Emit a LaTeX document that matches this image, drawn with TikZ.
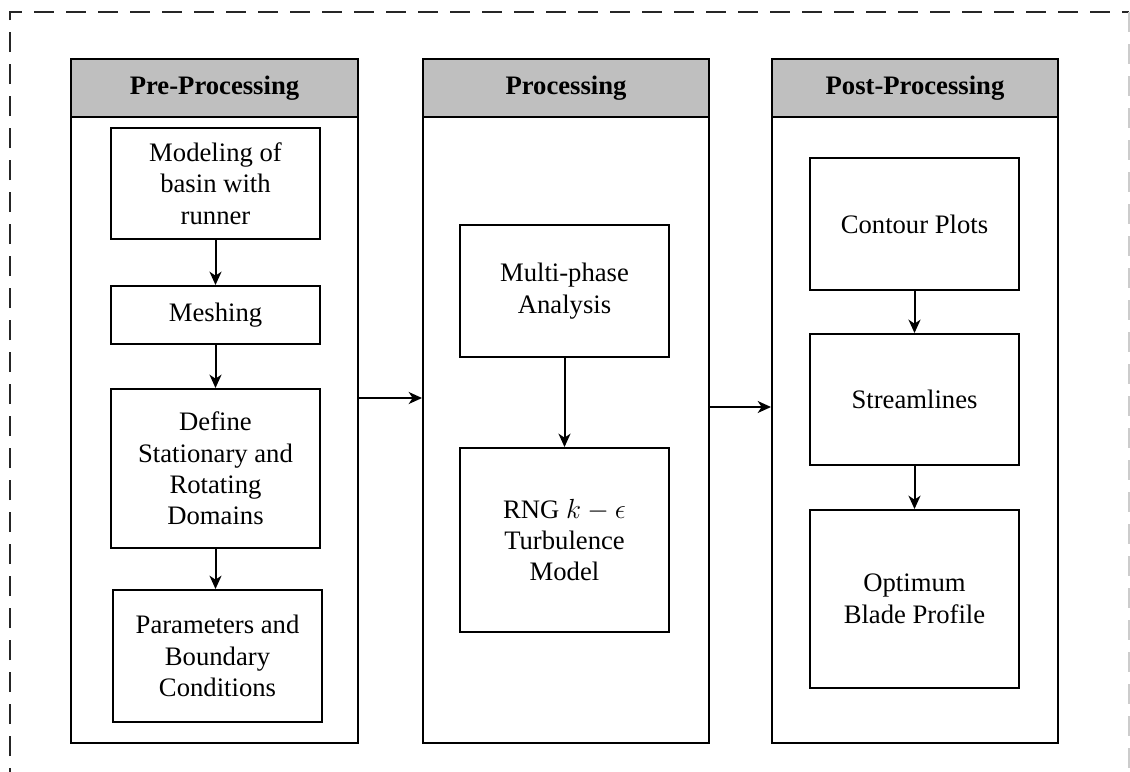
\documentclass[tikz,border=0pt]{standalone}
\usepackage{fontspec}
\setmainfont{Liberation Serif}
\usetikzlibrary{arrows.meta,fit}
\tikzset{
  panelhead/.style={draw=black, line width=1.5pt, fill=headgray, inner sep=0pt, font=\fontsize{20}{23.6}\selectfont\bfseries},
  panelbody/.style={draw=black, line width=1.5pt, fill=white, inner sep=0pt},
  ibox/.style={draw=black, line width=1.5pt, fill=white, inner sep=0pt, align=center, font=\fontsize{20}{23.6}\selectfont},
  flow/.style={line width=1.5pt, -{Stealth[length=10pt,width=9pt,inset=3pt]}},
  frame/.style={draw=black!85, line width=1.5pt, dash pattern=on 15pt off 9pt},
  frameedge/.style={draw=black!20, line width=1pt, dash pattern=on 15pt off 9pt}
}
\definecolor{headgray}{HTML}{BFBFBF}
\begin{document}
\begin{tikzpicture}[x=0.75pt,y=-0.75pt]
\useasboundingbox (0,0) rectangle (1130,771);
\clip (0,0) rectangle (1130,771);
\fill[white] (0,0) rectangle (1130,771);
% outer dashed frame
\coordinate (fbl) at (10,820);
\coordinate (ftl) at (10,12);
\coordinate (ftr) at (1129,12);
\coordinate (fbr) at (1129,820);
\draw[frame] (fbl) -- (ftl) -- (ftr);
\draw[frameedge] (ftr) -- (fbr);

% panels
\node[panelbody, fit={(71,117) (358,743)}] (lbody) {};
\node[panelhead, fit={(71,59) (358,117)}] (lhead) {};
\node[font=\fontsize{20}{23.6}\selectfont\bfseries] (ltitle) at (lhead.center) {Pre-Processing};

\node[panelbody, fit={(423,117) (709,743)}] (mbody) {};
\node[panelhead, fit={(423,59) (709,117)}] (mhead) {};
\node[font=\fontsize{20}{23.6}\selectfont\bfseries] (mtitle) at (mhead.center) {Processing};

\node[panelbody, fit={(772,117) (1058,743)}] (rbody) {};
\node[panelhead, fit={(772,59) (1058,117)}] (rhead) {};
\node[font=\fontsize{20}{23.6}\selectfont\bfseries] (rtitle) at (rhead.center) {Post-Processing};

% left inner boxes
\node[ibox, fit={(111,128) (320,239)}] (mod) {};
\node[align=center, font=\fontsize{20}{23.6}\selectfont] (modt) at (mod.center) {Modeling of\\basin with\\runner};
\node[ibox, fit={(111,286) (320,344)}] (mesh) {};
\node[font=\fontsize{20}{23.6}\selectfont] (mesht) at (mesh.center) {Meshing};
\node[ibox, fit={(111,389) (320,548)}] (def) {};
\node[align=center, font=\fontsize{20}{23.6}\selectfont] (deft) at (def.center) {Define\\Stationary and\\Rotating\\Domains};
\node[ibox, fit={(113,590) (322,722)}] (par) {};
\node[align=center, font=\fontsize{20}{23.6}\selectfont] (part) at (par.center) {Parameters and\\Boundary\\Conditions};

% middle inner boxes
\node[ibox, fit={(460,225) (669,357)}] (multi) {};
\node[align=center, font=\fontsize{20}{23.6}\selectfont] (multit) at (multi.center) {Multi-phase\\Analysis};
\node[ibox, fit={(460,448) (669,632)}] (rng) {};
\node[align=center, font=\fontsize{20}{23.6}\selectfont] (rngt) at (rng.center) {RNG $k-\epsilon$\\Turbulence\\Model};

% right inner boxes
\node[ibox, fit={(810,158) (1019,290)}] (cont) {};
\node[font=\fontsize{20}{23.6}\selectfont] (contt) at (cont.center) {Contour Plots};
\node[ibox, fit={(810,334) (1019,465)}] (stream) {};
\node[font=\fontsize{20}{23.6}\selectfont] (streamt) at (stream.center) {Streamlines};
\node[ibox, fit={(810,510) (1019,688)}] (opt) {};
\node[align=center, font=\fontsize{20}{23.6}\selectfont] (optt) at (opt.center) {Optimum\\Blade Profile};

% arrows inside panels
\draw[flow] (mod.south) -- (mesh.north);
\draw[flow] (mesh.south) -- (def.north);
\draw[flow] (def.south) -- (def.south |- par.north);
\draw[flow] (multi.south) -- (rng.north);
\draw[flow] (cont.south) -- (stream.north);
\draw[flow] (stream.south) -- (opt.north);

% arrows between panels
\coordinate (a1) at (358,398);
\coordinate (a2) at (709,407);
\draw[flow] (a1) -- (a1 -| mbody.west);
\draw[flow] (a2) -- (a2 -| rbody.west);
\end{tikzpicture}
\end{document}
